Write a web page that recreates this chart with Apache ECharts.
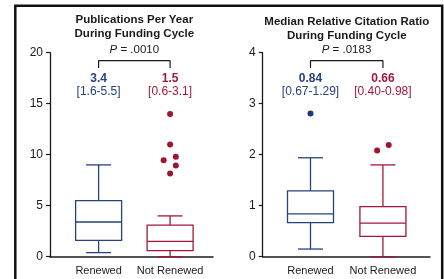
<!DOCTYPE html>
<html><head><meta charset="utf-8">
<script src="https://cdn.jsdelivr.net/npm/echarts@6/dist/echarts.min.js"></script>
<style>html,body{margin:0;padding:0;background:#fff}#c{width:444px;height:279px}</style>
</head><body><div id="c"></div><script>
// ---- data ----
const categories = ['Renewed', 'Not Renewed'];
// box stats: [min, Q1, median, Q3, max]
const pubBoxes = [[0.4, 1.6, 3.4, 5.5, 9.0], [0.0, 0.6, 1.5, 3.1, 4.0]];
// outliers: [x position (category 1/2 with jitter), value]
const pubOutliers = [[2, 14.0], [2, 11.0], [2.08, 9.8], [1.91, 9.45], [2.08, 8.95], [2, 8.15]];
const rcrBoxes = [[0.15, 0.67, 0.84, 1.29, 1.94], [0.0, 0.40, 0.66, 0.98, 1.80]];
const rcrOutliers = [[1, 2.81], [1.92, 2.08], [2.08, 2.19]];
const pubMedianText = ['3.4', '1.5'];
const pubIqrText = ['[1.6-5.5]', '[0.6-3.1]'];
const rcrMedianText = ['0.84', '0.66'];
const rcrIqrText = ['[0.67-1.29]', '[0.40-0.98]'];
const pubTitle = 'Publications Per Year\nDuring Funding Cycle';
const rcrTitle = 'Median Relative Citation Ratio\nDuring Funding Cycle';
const pubP = '.0010';
const rcrP = '.0183';
const pubYTicks = {min: 0, max: 20, interval: 5};
const rcrYTicks = {min: 0, max: 4, interval: 1};

// ---- style ----
const FONT = "'Liberation Sans', Arial, Helvetica, sans-serif";
const COLORS = ['#24437f', '#a31838'];
const DOT = ['#1f3a7a', '#a0142f'];
const INK = '#1a1a1a';

function boxRender(params, api) {
  const x = api.value(0);
  const c = y => api.coord([x, y]);
  const pMin = c(api.value(1)), pQ1 = c(api.value(2)), pMed = c(api.value(3)),
        pQ3 = c(api.value(4)), pMax = c(api.value(5));
  const col = COLORS[params.dataIndex];
  const hb = 23, hc = 12.5;
  const st = {stroke: col, lineWidth: 1.3, fill: null};
  const ln = (x1, y1, x2, y2) => ({type: 'line', shape: {x1, y1, x2, y2}, style: st});
  return {type: 'group', children: [
    ln(pMax[0], pMax[1], pQ3[0], pQ3[1]),
    ln(pMin[0], pMin[1], pQ1[0], pQ1[1]),
    ln(pMax[0] - hc, pMax[1], pMax[0] + hc, pMax[1]),
    ln(pMin[0] - hc, pMin[1], pMin[0] + hc, pMin[1]),
    {type: 'rect', shape: {x: pQ3[0] - hb, y: pQ3[1], width: 2 * hb, height: pQ1[1] - pQ3[1]},
     style: {stroke: col, lineWidth: 1.3, fill: '#fff'}},
    ln(pMed[0] - hb, pMed[1], pMed[0] + hb, pMed[1])
  ]};
}

function xAxis(gi, min, max) {
  return {
    gridIndex: gi, type: 'value', min, max,
    axisLine: {show: true, lineStyle: {color: INK, width: 1.5}},
    axisTick: {show: false}, splitLine: {show: false},
    axisLabel: {customValues: [1, 2], formatter: v => categories[Math.round(v) - 1],
      margin: 8.5, fontSize: 11, fontFamily: FONT, color: INK}
  };
}
function yAxis(gi, t) {
  return {
    gridIndex: gi, type: 'value', min: t.min, max: t.max, interval: t.interval,
    axisLine: {show: true, lineStyle: {color: INK, width: 1.3}},
    axisTick: {show: true, length: 4, inside: false, lineStyle: {color: INK, width: 1.2}},
    splitLine: {show: false},
    axisLabel: {fontSize: 12, margin: 7, fontFamily: FONT, color: INK}
  };
}
function boxSeries(gi, boxes) {
  return {type: 'custom', xAxisIndex: gi, yAxisIndex: gi, renderItem: boxRender,
    encode: {x: 0, y: [1, 2, 3, 4, 5]},
    data: boxes.map((b, i) => [i + 1].concat(b)), z: 3};
}
function outlierSeries(gi, pts) {
  return {type: 'scatter', xAxisIndex: gi, yAxisIndex: gi, symbolSize: 6, z: 4,
    data: pts.map(p => ({value: p, itemStyle: {color: DOT[Math.round(p[0]) - 1], opacity: 1}}))};
}
function bracketSeries(gi, lo, hi) {
  return {type: 'line', xAxisIndex: gi, yAxisIndex: gi, symbol: 'none', z: 5,
    lineStyle: {color: INK, width: 1.2},
    data: [[1, lo], [1, hi], [2, hi], [2, lo]]};
}
function medianLabelSeries(gi, yv, med, iqr) {
  return {type: 'scatter', xAxisIndex: gi, yAxisIndex: gi, symbolSize: 0, clip: false, z: 5,
    itemStyle: {opacity: 1},
    data: med.map((m, i) => ({
      value: [i + 1, yv],
      label: {show: true, position: 'inside', opacity: 1, formatter: '{b|' + m + '}\n{n|' + iqr[i] + '}',
        rich: {
          b: {fontWeight: 'bold', fontSize: 12, lineHeight: 13, color: COLORS[i], fontFamily: FONT},
          n: {fontSize: 12, lineHeight: 13, color: COLORS[i], fontFamily: FONT}
        }}
    }))};
}
function titleText(x, y, text) {
  return {type: 'text', x, y, style: {text, textAlign: 'center', textVerticalAlign: 'top',
    font: 'bold 11.5px ' + FONT, lineHeight: 14, fill: INK}};
}
function pText(x, y, p) {
  return {type: 'text', x, y, style: {text: '{i|P} = ' + p, textAlign: 'center', textVerticalAlign: 'middle',
    fontSize: 11.5, fontFamily: FONT, fill: INK,
    rich: {i: {fontStyle: 'italic', fontSize: 11.5, fontFamily: FONT, color: INK}}}};
}

const chart = echarts.init(document.getElementById('c'), null, {renderer: 'canvas'});
chart.setOption({
  animation: false,
  backgroundColor: '#fff',
  grid: [
    {left: 50, top: 52.7, width: 163, height: 204},
    {left: 262.7, top: 52.7, width: 167.3, height: 204}
  ],
  xAxis: [xAxis(0, 0.32, 2.6), xAxis(1, 0.34, 2.65)],
  yAxis: [yAxis(0, pubYTicks), yAxis(1, rcrYTicks)],
  series: [
    boxSeries(0, pubBoxes), outlierSeries(0, pubOutliers), bracketSeries(0, 18.5, 19.22),
    medianLabelSeries(0, 16.8, pubMedianText, pubIqrText),
    boxSeries(1, rcrBoxes), outlierSeries(1, rcrOutliers), bracketSeries(1, 3.70, 3.843),
    medianLabelSeries(1, 3.36, rcrMedianText, rcrIqrText)
  ],
  graphic: [
    {type: 'rect', shape: {x: 15.3, y: 5.7, width: 426.9, height: 300},
     style: {stroke: '#111', lineWidth: 2.5, fill: null}, z: 10},
    titleText(134.3, 13, pubTitle),
    titleText(346.8, 14.5, rcrTitle),
    pText(134.3, 50, pubP),
    pText(346.5, 50, rcrP)
  ]
});
</script></body></html>
